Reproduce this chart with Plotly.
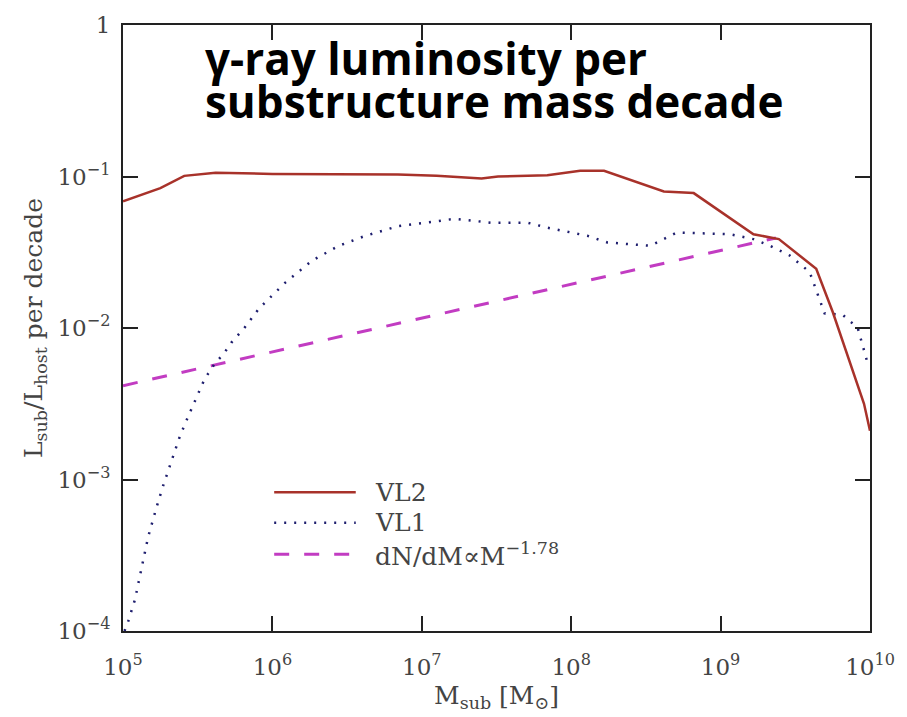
import numpy as np
import plotly.graph_objects as go

# log10 of substructure mass [M_sun] and luminosity fraction per decade
vl2_logm = [5.00, 5.11, 5.25, 5.41, 5.62, 6.00, 6.50, 6.84, 7.10, 7.40, 7.51, 7.84,
            8.06, 8.22, 8.62, 8.82, 9.22, 9.39, 9.64, 9.75, 9.96, 10.00]
vl2_frac = [0.0686, 0.075, 0.0838, 0.101, 0.106, 0.104, 0.104, 0.103, 0.101, 0.097,
            0.100, 0.102, 0.109, 0.109, 0.0797, 0.0777, 0.0416, 0.0386, 0.0246,
            0.0128, 0.00316, 0.0021]

vl1_logm = [5.01, 5.035, 5.08, 5.135, 5.168, 5.224, 5.268, 5.335, 5.38, 5.435, 5.49,
            5.546, 5.612, 5.679, 5.724, 5.812, 5.912, 6.09, 6.267, 6.445, 6.622,
            6.844, 7.066, 7.222, 7.465, 7.71, 7.843, 8.109, 8.242, 8.53, 8.597,
            8.708, 9.063, 9.219, 9.33, 9.463, 9.596, 9.696, 9.818, 9.918, 9.98]
vl1_frac = [1.0e-4, 1.16e-4, 1.61e-4, 3.0e-4, 4.17e-4, 6.53e-4, 9.06e-4, 1.42e-3,
            1.92e-3, 2.59e-3, 3.41e-3, 4.60e-3, 5.77e-3, 6.87e-3, 7.98e-3, 0.0100,
            0.0135, 0.0201, 0.0279, 0.0349, 0.0406, 0.0471, 0.0501, 0.0526, 0.0495,
            0.0495, 0.0459, 0.0406, 0.0367, 0.0349, 0.0377, 0.0427, 0.0416, 0.0386,
            0.0349, 0.0301, 0.0234, 0.0125, 0.0122, 0.0100, 0.00605]

pl_logm = [5.0, 6.0, 7.0, 8.0, 9.0, 9.37]
pl_frac = [0.00416, 0.00695, 0.0116, 0.0194, 0.0324, 0.0393]

x_tick_exp = [5, 6, 7, 8, 9, 10]
y_tick_exp = [-4, -3, -2, -1, 0]

RED = "#a8322a"
BLUE = "#1e1e6e"
MAG = "#c23cc2"
SERIF = "DejaVu Serif"
GREY = "#444"
INK = "#222"

W, H = 907, 717
L, R, T, B = 123, 33, 16, 85
pw, ph = W - L - R, H - T - B
MAJOR_LEN, MINOR_LEN = 15, 8


def minor_logs(exps):
    return [e + np.log10(d) for e in exps[:-1] for d in range(2, 10)]


fig = go.Figure()
fig.add_trace(go.Scatter(x=10 ** np.array(pl_logm), y=pl_frac, mode="lines",
                         line=dict(color=MAG, width=3, dash="15px,15px"), name="dN/dM"))
fig.add_trace(go.Scatter(x=10 ** np.array(vl1_logm), y=vl1_frac, mode="lines",
                         line=dict(color=BLUE, width=2.5, dash="2px,8px"), name="VL1"))
fig.add_trace(go.Scatter(x=10 ** np.array(vl2_logm), y=vl2_frac, mode="lines",
                         line=dict(color=RED, width=2.5), name="VL2"))

axis_common = dict(type="log", showline=True, linecolor=INK, linewidth=2,
                   mirror="allticks", ticks="inside", ticklen=MAJOR_LEN, tickwidth=1.5,
                   tickcolor=INK, showgrid=False, zeroline=False,
                   tickfont=dict(family=SERIF, size=23, color=GREY))

fig.update_xaxes(range=[x_tick_exp[0], x_tick_exp[-1]],
                 tickvals=[10 ** e for e in x_tick_exp],
                 ticktext=[f"10<sup>{e}</sup>" for e in x_tick_exp],
                 ticklabelstandoff=14,
                 title=dict(text="M<sub>sub</sub> [M<sub>⊙</sub>]",
                            font=dict(family=SERIF, size=25, color=GREY), standoff=8),
                 **axis_common)
fig.update_yaxes(range=[y_tick_exp[0], y_tick_exp[-1]],
                 tickvals=[10 ** e for e in y_tick_exp],
                 ticktext=[("1" if e == 0 else f"10<sup>−{-e}</sup>") for e in y_tick_exp],
                 ticklabelstandoff=6,
                 title=dict(text="L<sub>sub</sub>/L<sub>host</sub> per decade",
                            font=dict(family=SERIF, size=25, color=GREY), standoff=8),
                 **axis_common)

# inward tick marks on all four sides of the frame (positions in log units)
tick_sets = [(list(x_tick_exp), MAJOR_LEN, 1.5), (minor_logs(x_tick_exp), MINOR_LEN, 1.3)]
for vals, ln, lw in tick_sets:
    for v in vals:
        for base, sgn in [(0, 1), (1, -1)]:
            fig.add_shape(type="line", xref="x", yref="y domain", x0=v, x1=v,
                          y0=base, y1=base + sgn * ln / ph,
                          line=dict(color=INK, width=lw))
tick_sets = [(list(y_tick_exp), MAJOR_LEN, 1.5), (minor_logs(y_tick_exp), MINOR_LEN, 1.3)]
for vals, ln, lw in tick_sets:
    for v in vals:
        for base, sgn in [(0, 1), (1, -1)]:
            fig.add_shape(type="line", xref="x domain", yref="y", y0=v, y1=v,
                          x0=base, x1=base + sgn * ln / pw,
                          line=dict(color=INK, width=lw))

# legend drawn inside the frame
legend_rows = [("VL2", RED, "solid", 2.5), ("VL1", BLUE, "2px,8px", 2.5),
               ("dN/dM∝M<sup>−1.78</sup>", MAG, "15px,15px", 3)]
row_y = [491, 522, 554]
for (label, col, dash, lw), yy in zip(legend_rows, row_y):
    yp = 1 - (yy - T) / ph
    fig.add_shape(type="line", xref="paper", yref="paper",
                  x0=(275 - L) / pw, x1=(357 - L) / pw, y0=yp, y1=yp,
                  line=dict(color=col, width=lw, dash=dash))
    fig.add_annotation(xref="paper", yref="paper", x=(374 - L) / pw, y=yp,
                       xanchor="left", yanchor="middle", showarrow=False,
                       text=label, font=dict(family=SERIF, size=25, color=GREY))

# heading text
for txt, yy in [("γ-ray luminosity per", 50), ("substructure mass decade", 93)]:
    fig.add_annotation(xref="paper", yref="paper", x=(203 - L) / pw,
                       y=1 - (yy - T) / ph, xanchor="left", yanchor="middle",
                       showarrow=False, text=f"<b>{txt}</b>",
                       font=dict(family="Open Sans", size=44, color="black"))

fig.update_layout(width=W, height=H, margin=dict(l=L, r=R, t=T, b=B),
                  paper_bgcolor="white", plot_bgcolor="white", showlegend=False)

fig.write_html("out.html")
